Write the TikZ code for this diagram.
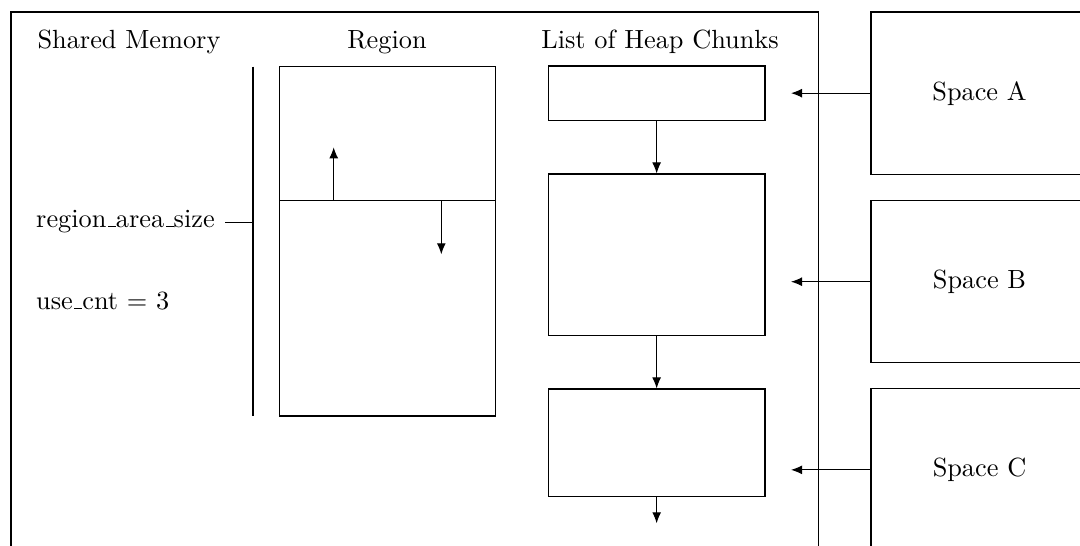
\documentclass[tikz,border=0pt]{standalone}
\usetikzlibrary{arrows.meta}
% short rule underscore, as in classic Computer Modern text
\newcommand\usc{\leavevmode\kern.06em\vbox{\hrule width.3em}}
\begin{document}
\begin{tikzpicture}[x=0.3802pt,y=-0.3802pt,
  every node/.style={font=\normalsize},
  blk/.style 2 args={draw,rectangle,inner sep=0pt,
    minimum width=#1*0.3802pt,minimum height=#2*0.3802pt},
  arr/.style={-{Latex[length=4.2pt,width=3.4pt]}},
  heading/.style={anchor=base}]
\useasboundingbox (0,0) rectangle (1080,545);
\clip (0,0) rectangle (1080,545);

% enclosing shared memory frame (runs past the lower edge)
\node[blk={807.7}{548}] (shm) at (414.85,286) {};

% column headings
\node[heading] (hshm) at (129,48) {Shared Memory};
\node[heading] (hrgn) at (387,48) {Region};
\node[heading] (hlist) at (660,48) {List of Heap Chunks};

% region with its two growing areas
\node[blk={216.4}{349.3}] (rgn) at (387.5,241.35) {};
\coordinate (divL) at (279.3,200.7);
\coordinate (divR) at (495.7,200.7);
\draw (divL) -- (divR);
\coordinate (upS) at (333.7,200.7);
\coordinate (upE) at (333.7,147.3);
\coordinate (dnS) at (441.3,200.7);
\coordinate (dnE) at (441.3,254.3);
\draw[arr] (upS) -- (upE);
\draw[arr] (dnS) -- (dnE);

% size bracket beside the region
\coordinate (brT) at (253,66.7);
\coordinate (brB) at (253,416);
\draw (brT) -- (brB);
\node[anchor=base west,inner sep=0pt] (ras) at (35.7,227.3) {region\usc area\usc size};
\node[anchor=base west,inner sep=0pt] (cnt) at (35.7,309) {use\usc cnt = 3};
\coordinate (rasS) at (225.3,222.3);
\coordinate (rasE) at (253,222.3);
\draw (rasS) -- (rasE);

% heap chunks
\node[blk={216.7}{54.7}] (c1) at (656.65,93.35) {};
\node[blk={216.7}{161.3}] (c2) at (656.65,254.65) {};
\node[blk={216.7}{107.7}] (c3) at (656.65,442.85) {};
\coordinate (c3next) at (656.65,523.3);
\draw[arr] (c1) -- (c2);
\draw[arr] (c2) -- (c3);
\draw[arr] (c3) -- (c3next);

% spaces pointing into the chunk list
\node[blk={217}{162.3}] (sa) at (979.5,93.15) {Space A};
\node[blk={217}{162}] (sb) at (979.5,281.7) {Space B};
\node[blk={217}{162.3}] (sc) at (979.5,469.85) {Space C};
\coordinate (pa) at (791,93.15);
\coordinate (pb) at (791,281.7);
\coordinate (pc) at (791,469.85);
\draw[arr] (sa.west) -- (pa);
\draw[arr] (sb.west) -- (pb);
\draw[arr] (sc.west) -- (pc);
\end{tikzpicture}
\end{document}
